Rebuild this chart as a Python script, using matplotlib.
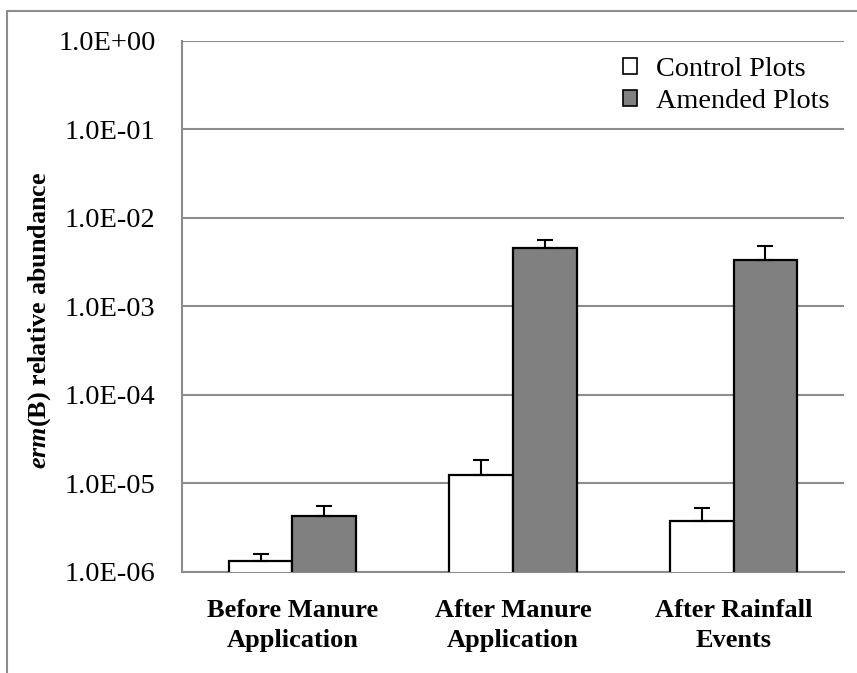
import numpy as np
import matplotlib
matplotlib.use("Agg")
import matplotlib.pyplot as plt
from matplotlib.patches import Rectangle

plt.rcParams['font.family'] = ['Liberation Serif', 'DejaVu Serif']
plt.rcParams['mathtext.fontset'] = 'custom'
plt.rcParams['mathtext.rm'] = 'Liberation Serif:bold'
plt.rcParams['mathtext.bfit'] = 'Liberation Serif:bold:italic'
plt.rcParams['mathtext.it'] = 'Liberation Serif:bold:italic'

# data
categories = ['Before Manure\nApplication', 'After Manure\nApplication', 'After Rainfall\nEvents']
control = [1.32e-6, 1.23e-5, 3.7e-6]
control_err = [0.24e-6, 0.6e-5, 1.5e-6]
amended = [4.2e-6, 4.56e-3, 3.33e-3]
amended_err = [1.3e-6, 1.05e-3, 1.5e-3]
yticks = [1e-6, 1e-5, 1e-4, 1e-3, 1e-2, 1e-1, 1e0]
ytick_labels = ['1.0E-06', '1.0E-05', '1.0E-04', '1.0E-03', '1.0E-02', '1.0E-01', '1.0E+00']

GRID = '#8c8c8c'

fig = plt.figure(figsize=(8.57, 6.73), dpi=100)
ax = fig.add_axes([182 / 857, 1 - 571.5 / 673, 662 / 857, 530.5 / 673])

x = np.arange(len(categories))
w = 0.288
ekw = dict(ecolor='black', elinewidth=1.5, capsize=6, capthick=1.5)
ax.bar(x - w / 2, control, w, color='white', edgecolor='black', linewidth=1.6,
       yerr=[np.zeros(3), control_err], error_kw=ekw, label='Control Plots', zorder=3)
ax.bar(x + w / 2, amended, w, color='#808080', edgecolor='black', linewidth=1.6,
       yerr=[np.zeros(3), amended_err], error_kw=ekw, label='Amended Plots', zorder=3)

ax.set_yscale('log')
ax.set_ylim(1e-6, 1e0)
ax.set_xlim(-0.5, 2.5)
ax.set_yticks(yticks)
ax.set_yticklabels(ytick_labels)
ax.minorticks_off()
ax.yaxis.grid(True, color=GRID, linewidth=1.5, zorder=0)
ax.set_axisbelow(True)
ax.set_xticks(x)
ax.set_xticklabels(categories, fontweight='bold', fontsize=19, linespacing=1.35)
ax.tick_params(axis='y', length=0, pad=19, labelsize=20.5)
ax.tick_params(axis='x', length=0, pad=20)

for s in ['top', 'right']:
    ax.spines[s].set_visible(False)
for s in ['left', 'bottom']:
    ax.spines[s].set_color(GRID)
    ax.spines[s].set_linewidth(1.5)

ax.set_ylabel(r'$\mathbfit{erm}$(B) relative abundance', fontweight='bold',
              fontsize=18.8, va='center')
ax.yaxis.set_label_coords(-0.2145, 0.474)

leg = ax.legend(loc='upper right', frameon=False, fontsize=20.3, handlelength=0.5,
                handleheight=0.5, handletextpad=0.7, labelspacing=0.25,
                bbox_to_anchor=(1.0, 0.997), borderaxespad=0.1)
for h in leg.legend_handles:
    h.set_linewidth(1.2)

# outer chart border
fig.patches.append(Rectangle((7 / 857, -0.05), 1.1, (673 - 11) / 673 + 0.05,
                             transform=fig.transFigure, fill=False,
                             edgecolor=GRID, linewidth=1.5))

fig.savefig('out.png', dpi=100)
